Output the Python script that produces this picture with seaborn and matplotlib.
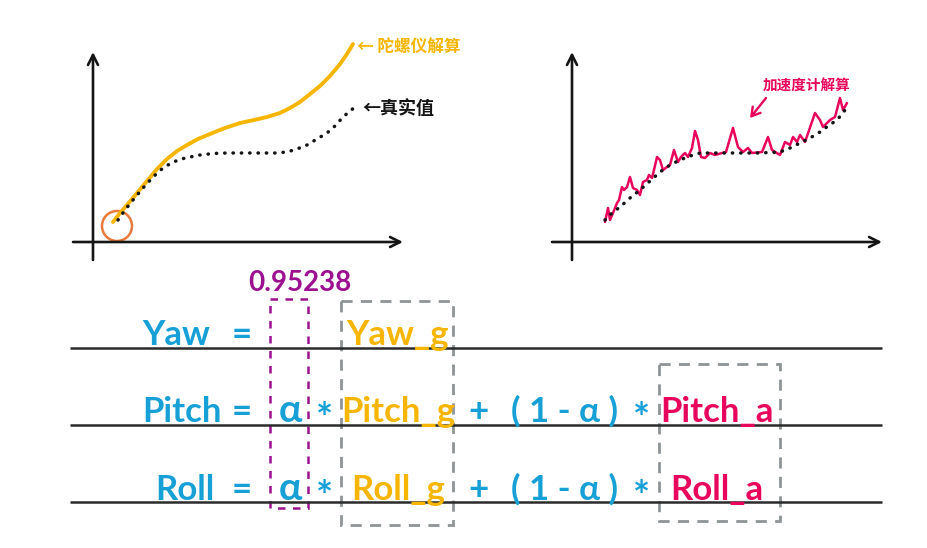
import matplotlib
matplotlib.use("Agg")
import matplotlib.pyplot as plt
import seaborn as sns
import numpy as np
import pandas as pd
from matplotlib.patches import Rectangle, Circle

# ---------------- data ----------------
# left chart: gyroscope-integrated angle vs true value
gyro_t = [2.0, 2.7, 3.4, 4.4, 5.4, 6.4, 7.4, 8.4, 9.4, 10.5, 11.7, 13.2, 14.7, 16.1,
          17.4, 18.7, 19.7, 20.7, 21.7, 22.7, 23.7, 24.7, 25.4, 26.0]
gyro_v = [2.0, 2.9, 3.7, 4.9, 6.1, 7.3, 8.3, 9.1, 9.7, 10.3, 10.8, 11.4, 11.9, 12.2,
          12.5, 12.9, 13.4, 14.0, 14.8, 15.6, 16.6, 17.8, 18.8, 19.8]
true_l_t = [2.5, 3.2, 4.0, 5.0, 6.0, 7.0, 8.0, 9.2, 10.7, 12.0, 13.4, 15.2, 16.7, 18.2,
            19.4, 20.4, 21.4, 22.4, 23.4, 24.2, 25.0, 25.7, 26.2]
true_l_v = [2.2, 3.2, 4.2, 5.4, 6.5, 7.4, 8.0, 8.4, 8.7, 8.85, 8.9, 8.9, 8.9, 8.9,
            9.0, 9.3, 9.7, 10.3, 10.9, 11.6, 12.5, 13.1, 13.5]

# right chart: accelerometer-derived angle vs true value
true_r_t = [3.3, 4.0, 4.8, 5.8, 6.8, 7.8, 8.8, 9.8, 10.8, 11.8, 12.8, 14.1, 15.5, 17.0,
            18.5, 19.8, 20.8, 21.8, 22.8, 23.8, 24.8, 25.6, 26.5, 27.0, 27.3]
true_r_v = [2.2, 2.9, 3.5, 4.4, 5.2, 6.1, 7.0, 7.7, 8.2, 8.6, 8.9, 8.9, 8.9, 8.9,
            8.9, 8.95, 9.0, 9.4, 9.9, 10.4, 11.0, 11.6, 12.2, 12.8, 13.2]
acc_t = [3.3, 3.6, 3.8, 4.1, 4.5, 4.7, 5.0, 5.2, 5.5, 5.8, 6.1, 6.5, 6.8, 7.1, 7.5,
         7.7, 8.0, 8.2, 8.5, 8.8, 9.1, 9.5, 9.8, 10.2, 10.6, 10.9, 11.3, 11.6, 12.0,
         12.3, 12.6, 12.9, 13.3, 13.8, 14.3, 15.0, 15.4, 16.1, 16.6, 17.1, 17.6, 18.0,
         19.0, 19.6, 20.0, 20.8, 21.3, 21.8, 22.1, 22.5, 22.8, 23.3, 24.3, 24.8, 25.1,
         25.8, 26.3, 26.8, 27.1, 27.5]
acc_v = [2.0, 3.4, 2.2, 2.9, 3.9, 4.2, 5.5, 5.2, 5.5, 6.5, 5.4, 5.2, 4.7, 6.0, 6.2,
         6.7, 6.4, 7.2, 8.5, 8.2, 7.2, 7.5, 7.7, 9.2, 8.0, 8.5, 8.9, 8.5, 9.4,
         11.1, 10.2, 8.5, 8.4, 8.9, 8.7, 8.9, 9.0, 11.4, 9.5, 9.0, 9.4, 8.9,
         9.0, 10.5, 9.2, 8.7, 10.0, 9.7, 10.5, 10.0, 10.7, 10.0, 12.9, 12.2, 11.5,
         12.2, 12.5, 14.4, 13.2, 13.9]

label_gyro = "← 陀螺仪解算"
label_true = "←真实值"
label_acc = "加速度计解算"
alpha_value = "0.95238"

row_left = ["Yaw", "Pitch", "Roll"]
row_g = ["Yaw_g", "Pitch_g", "Roll_g"]
row_a = [None, "Pitch_a", "Roll_a"]

# ---------------- style ----------------
BLUE = "#17a0d6"
YELLOW = "#f6b600"
PINK = "#e8065c"
PURPLE = "#9c1190"
GRAY = "#8e9496"
ORANGE = "#ea7a3c"
INK = "#151515"

sns.set_theme(style="white")
plt.rcParams["font.family"] = ["Lato", "DejaVu Sans"]
CJK = ["Noto Sans CJK SC", "DejaVu Sans"]
LAT = ["Lato", "DejaVu Sans"]

W, H = 928, 548
fig = plt.figure(figsize=(W / 100, H / 100), dpi=100)
fig.patch.set_facecolor("white")

# overlay in pixel coordinates for the formula part
bg = fig.add_axes([0, 0, 1, 1])
bg.set_xlim(0, W)
bg.set_ylim(H, 0)
bg.axis("off")


def chart_axes(px0, px1, py0, py1, ox, oy):
    ax = fig.add_axes([px0 / W, (H - py1) / H, (px1 - px0) / W, (py1 - py0) / H])
    ax.set_xlim((px0 - ox) / 10, (px1 - ox) / 10)
    ax.set_ylim((oy - py1) / 10, (oy - py0) / 10)
    ax.patch.set_alpha(0)
    ax.axis("off")
    arrow = dict(arrowstyle="->,head_length=0.6,head_width=0.3", color=INK, lw=1.9,
                 shrinkA=0, shrinkB=0)
    ax.annotate("", xy=(31.0, 0), xytext=(-2.0, 0), arrowprops=arrow)
    ax.annotate("", xy=(0, 19.0), xytext=(0, -1.8), arrowprops=arrow)
    return ax


# ---------------- left chart ----------------
axl = chart_axes(60, 470, 30, 270, 93, 242)
sns.lineplot(x=gyro_t, y=gyro_v, ax=axl, color=YELLOW, lw=2.8, sort=False,
             estimator=None, solid_capstyle="round")
sns.lineplot(x=true_l_t, y=true_l_v, ax=axl, color=INK, lw=2.5, sort=False,
             estimator=None, linestyle=(0, (0.1, 2.3)), dash_capstyle="round")
axl.add_patch(Circle((2.4, 1.6), 1.5, fill=False, ec=ORANGE, lw=1.8))
axl.text(26.4, 19.5, label_gyro, family=CJK, color=YELLOW, fontsize=12,
         fontweight="bold", ha="left", va="center")
axl.text(26.9, 13.3, label_true, family=CJK, color=INK, fontsize=13,
         fontweight="bold", ha="left", va="center")

# ---------------- right chart ----------------
axr = chart_axes(540, 900, 30, 270, 572, 242)
sns.lineplot(x=acc_t, y=acc_v, ax=axr, color=PINK, lw=1.8, sort=False,
             estimator=None, solid_joinstyle="round", solid_capstyle="round")
sns.lineplot(x=true_r_t, y=true_r_v, ax=axr, color=INK, lw=2.5, sort=False,
             estimator=None, linestyle=(0, (0.1, 2.3)), dash_capstyle="round")
axr.text(19.1, 15.6, label_acc, family=CJK, color=PINK, fontsize=10.5,
         fontweight="bold", ha="left", va="center")
axr.annotate("", xy=(17.8, 12.4), xytext=(19.4, 14.4),
             arrowprops=dict(arrowstyle="->,head_length=0.5,head_width=0.3",
                             color=PINK, lw=1.7, shrinkA=0, shrinkB=0))

# ---------------- formula part ----------------
base_y = [345, 422, 500]
line_y = [348, 425, 502]
for ly in line_y:
    bg.plot([70, 882], [ly, ly], color="#2a2a2a", lw=1.8, solid_capstyle="butt")

FS = 25
WT = "bold"
left_x = [176, 182, 185]
for i in range(3):
    by = base_y[i]
    bg.text(left_x[i], by, row_left[i], color=BLUE, fontsize=FS, family=LAT,
            ha="center", va="baseline", fontweight=WT)
    bg.text(242, by, "=", color=BLUE, fontsize=FS, family=LAT, ha="center",
            va="baseline", fontweight=WT)
    bg.text(398, by, row_g[i], color=YELLOW, fontsize=FS, family=LAT,
            ha="center", va="baseline", fontweight=WT)
    if i > 0:
        bg.text(290, by, "α", color=BLUE, fontsize=FS + 3, family=LAT,
                ha="center", va="baseline", fontweight=WT)
        bg.text(325, by + 10, "*", color=BLUE, fontsize=FS + 4, family=LAT,
                ha="center", va="baseline", fontweight=WT)
        bg.text(479, by, "+", color=BLUE, fontsize=FS, family=LAT, ha="center",
                va="baseline", fontweight=WT)
        bg.text(565, by, "( 1 - α )", color=BLUE, fontsize=FS, family=LAT,
                ha="center", va="baseline", fontweight=WT)
        bg.text(642, by + 10, "*", color=BLUE, fontsize=FS + 4, family=LAT,
                ha="center", va="baseline", fontweight=WT)
        bg.text(717, by, row_a[i], color=PINK, fontsize=FS, family=LAT,
                ha="center", va="baseline", fontweight=WT)

bg.text(300, 283, alpha_value, color=PURPLE, fontsize=20, family=LAT,
        ha="center", va="center", fontweight="bold")

# dashed boxes
bg.add_patch(Rectangle((270, 299), 38, 209, fill=False, ec=PURPLE, lw=1.8,
                       linestyle=(0, (3, 3))))
bg.add_patch(Rectangle((341, 301), 112, 224, fill=False, ec=GRAY, lw=2.0,
                       linestyle=(0, (4, 3))))
bg.add_patch(Rectangle((659, 364), 121, 157, fill=False, ec=GRAY, lw=2.0,
                       linestyle=(0, (4, 3))))

fig.savefig("out.png", dpi=100, facecolor="white")
